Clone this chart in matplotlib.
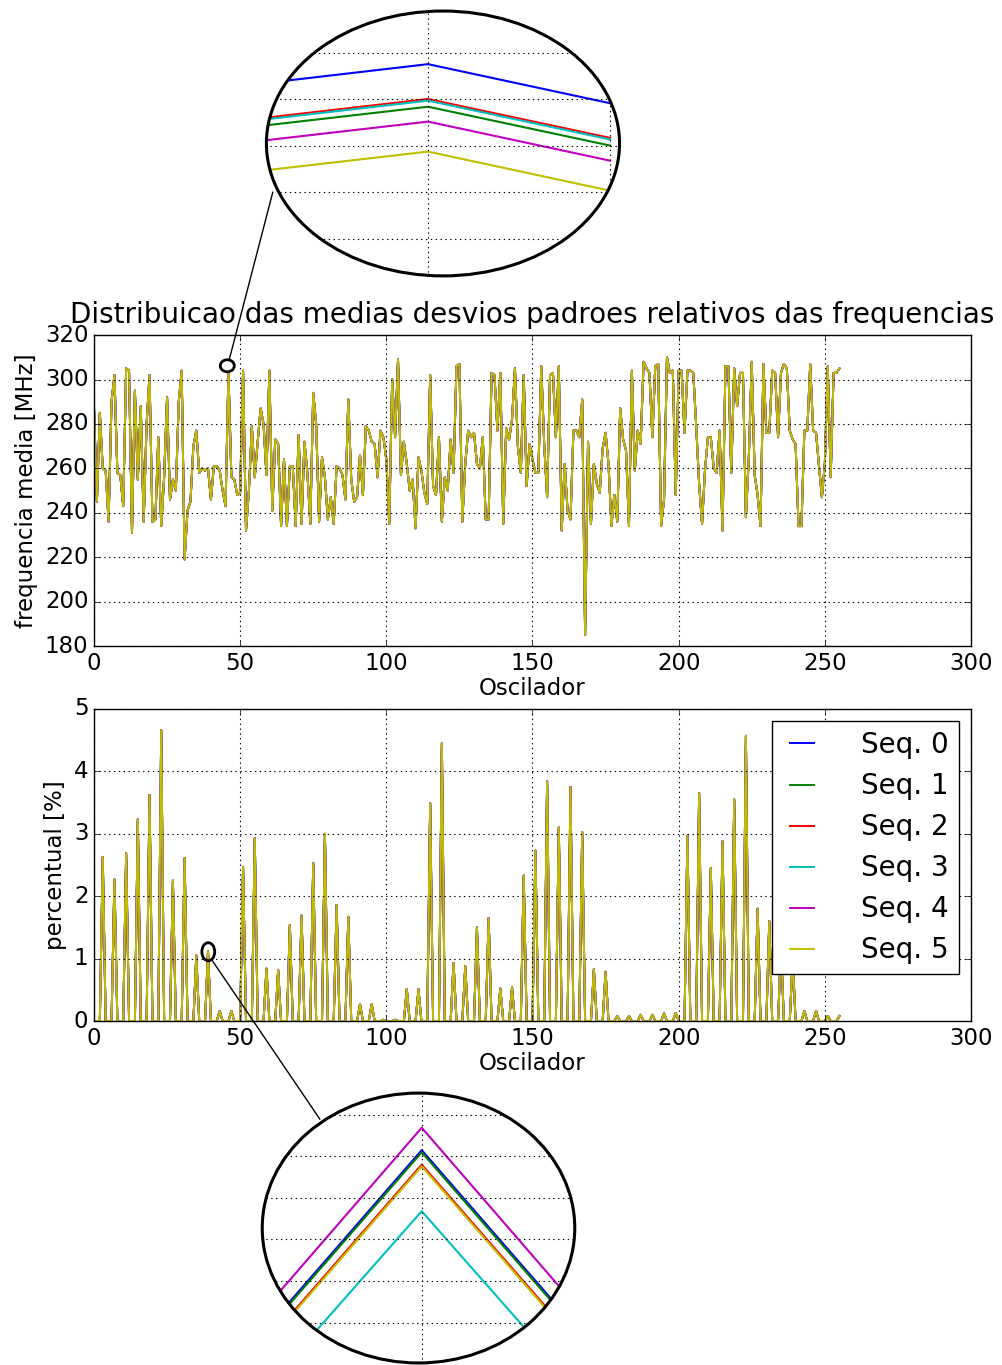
import numpy as np
import matplotlib
matplotlib.use('Agg')
from matplotlib import pyplot as plt
from matplotlib.patches import Ellipse, ConnectionPatch

plt.style.use('classic')
plt.rcParams['font.family'] = ['DejaVu Sans']

seq_labels = ['Seq. 0', 'Seq. 1', 'Seq. 2', 'Seq. 3', 'Seq. 4', 'Seq. 5']
seq_colors = ['b', 'g', 'r', 'c', 'm', 'y']

# frequencia media [MHz] por oscilador (0..255)
freq_media = [
    288, 245, 285, 260, 259, 236, 290, 302, 258, 257, 243, 305, 304, 231, 295, 255,
    288, 236, 280, 302, 236, 237, 274, 234, 256, 292, 246, 255, 250, 290, 304, 219,
    241, 245, 270, 277, 258, 260, 259, 260, 246, 261, 261, 259, 250, 243, 303, 256,
    255, 248, 249, 304, 232, 250, 279, 256, 272, 287, 280, 257, 304, 241, 273, 271,
    234, 264, 234, 261, 261, 234, 275, 235, 272, 258, 235, 294, 280, 236, 265, 256,
    237, 247, 235, 261, 260, 257, 246, 291, 255, 245, 247, 266, 248, 279, 277, 272,
    271, 256, 277, 274, 264, 235, 300, 274, 309, 257, 272, 262, 250, 255, 233, 265,
    259, 249, 244, 302, 252, 248, 274, 236, 256, 250, 273, 258, 306, 307, 236, 262,
    277, 274, 276, 262, 260, 274, 237, 237, 303, 302, 277, 303, 235, 278, 273, 282,
    305, 270, 258, 302, 252, 271, 264, 258, 258, 306, 271, 247, 302, 303, 274, 306,
    232, 262, 241, 237, 277, 277, 274, 291, 185, 272, 235, 262, 253, 249, 269, 276,
    262, 234, 248, 236, 287, 273, 268, 234, 304, 259, 277, 271, 308, 305, 303, 274,
    306, 307, 234, 246, 310, 303, 304, 248, 304, 304, 276, 304, 304, 303, 279, 253,
    235, 259, 274, 274, 260, 258, 277, 232, 306, 306, 258, 305, 288, 303, 303, 238,
    265, 308, 257, 248, 234, 307, 276, 276, 304, 303, 274, 303, 307, 305, 277, 273,
    271, 234, 234, 277, 277, 307, 277, 276, 261, 247, 262, 306, 256, 303, 303, 305,
]

# desvio padrao relativo [%] por oscilador (0..255)
desvio_pct = [
    0, 0, 0, 2.63, 0, 0, 0, 2.27, 0, 0, 0, 2.69, 0, 0, 0, 3.23,
    0, 0, 0, 3.62, 0, 0, 0, 4.66, 0, 0, 0, 2.25, 0, 0, 0, 2.61,
    0, 0, 0, 1.05, 0, 0, 0, 1.12, 0, 0, 0, 0.16, 0, 0, 0, 0.16,
    0, 0, 0, 2.47, 0, 0, 0, 2.93, 0, 0, 0, 0.84, 0, 0, 0, 0.82,
    0, 0, 0, 1.54, 0, 0, 0, 1.69, 0, 0, 0, 2.53, 0, 0, 0, 3.00,
    0, 0, 0, 1.86, 0, 0, 0, 1.67, 0, 0, 0, 0.27, 0, 0, 0, 0.27,
    0, 0, 0, 0.02, 0, 0, 0, 0.02, 0, 0, 0, 0.51, 0, 0, 0, 0.51,
    0, 0, 0, 3.49, 0, 0, 0, 4.45, 0, 0, 0, 0.93, 0, 0, 0, 0.88,
    0, 0, 0, 1.50, 0, 0, 0, 1.65, 0, 0, 0, 0.52, 0, 0, 0, 0.54,
    0, 0, 0, 2.33, 0, 0, 0, 2.73, 0, 0, 0, 3.84, 0, 0, 0, 3.10,
    0, 0, 0, 3.75, 0, 0, 0, 3.03, 0, 0, 0, 0.83, 0, 0, 0, 0.79,
    0, 0, 0, 0.08, 0, 0, 0, 0.08, 0, 0, 0, 0.10, 0, 0, 0, 0.10,
    0, 0, 0, 0.12, 0, 0, 0, 0.13, 0, 0, 0, 2.97, 0, 0, 0, 3.65,
    0, 0, 0, 2.45, 0, 0, 0, 2.88, 0, 0, 0, 3.55, 0, 0, 0, 4.57,
    0, 0, 0, 1.80, 0, 0, 0, 1.60, 0, 0, 0, 1.20, 0, 0, 0, 1.00,
    0, 0, 0, 0.16, 0, 0, 0, 0.16, 0, 0, 0, 0.08, 0, 0, 0, 0.08,
]

# valores ampliados (zoom) por sequencia
zoom_freq_x = [45, 46, 47]
zoom_freq = [
    [303.660, 303.751, 303.583],
    [303.478, 303.568, 303.401],
    [303.511, 303.601, 303.434],
    [303.504, 303.594, 303.427],
    [303.414, 303.504, 303.336],
    [303.285, 303.375, 303.207],
]
zoom_pct_x = [38, 39, 40]
zoom_pct = [
    [0, 1.1115, 0],
    [0, 1.1110, 0],
    [0, 1.1080, 0],
    [0, 1.0968, 0],
    [0, 1.1169, 0],
    [0, 1.1076, 0],
]

osc = np.arange(len(freq_media))
fs = 16.5
grid_kw = dict(color='k', linestyle=(0, (1, 2.5)), linewidth=0.8)

fig = plt.figure(figsize=(10.03, 13.65), dpi=100)
fig.patch.set_facecolor('white')

ax1 = fig.add_axes([0.0937, 0.5267, 0.8744, 0.2278])
ax2 = fig.add_axes([0.0937, 0.2520, 0.8744, 0.2286])

for lab, c in zip(seq_labels, seq_colors):
    ax1.plot(osc, freq_media, color=c, lw=1.4, label=lab)
    ax2.plot(osc, desvio_pct, color=c, lw=1.4, label=lab)

ax1.set_xlim(0, 300)
ax1.set_ylim(180, 320)
ax1.set_yticks(range(180, 321, 20))
ax1.set_title('Distribuicao das medias desvios padroes relativos das frequencias',
              fontsize=20, pad=9)
ax1.set_ylabel('frequencia media [MHz]', fontsize=fs)
ax1.set_xlabel('Oscilador', fontsize=fs, labelpad=2)

ax2.set_xlim(0, 300)
ax2.set_ylim(0, 5)
ax2.set_ylabel('percentual [%]', fontsize=fs)
ax2.set_xlabel('Oscilador', fontsize=fs, labelpad=2)

for ax in (ax1, ax2):
    ax.grid(True, **grid_kw)
    ax.tick_params(labelsize=fs)
    ax.set_xticks(range(0, 301, 50))

leg = ax2.legend(loc='upper right', fontsize=20, handlelength=1.45, handletextpad=1.4,
                 labelspacing=0.47, borderpad=0.35, borderaxespad=0.45,
                 fancybox=False, framealpha=1)
leg.get_frame().set_edgecolor('k')


def zoom_axes(rect, xs, ys_list, xlim, ylim, xt, yt):
    axz = fig.add_axes(rect)
    axz.set_xlim(xlim)
    axz.set_ylim(ylim)
    axz.set_xticks(xt)
    axz.set_yticks(yt)
    ell = Ellipse((0.5, 0.5), 1, 1, transform=axz.transAxes, facecolor='white', edgecolor='none')
    axz.add_patch(ell)
    for ys, c in zip(ys_list, seq_colors):
        ln, = axz.plot(xs, ys, color=c, lw=1.5)
        ln.set_clip_path(ell)
    axz.grid(True, **grid_kw)
    for gl in axz.get_xgridlines() + axz.get_ygridlines():
        gl.set_clip_path(ell)
    axz.tick_params(length=0, labelbottom=False, labelleft=False, labeltop=False, labelright=False)
    for s in axz.spines.values():
        s.set_visible(False)
    axz.patch.set_visible(False)
    axz.add_patch(Ellipse((0.5, 0.5), 0.992, 0.992, transform=axz.transAxes, fill=False,
                          edgecolor='k', lw=2.2, clip_on=False, zorder=5))
    return axz


axz1 = zoom_axes([0.2642, 0.7971, 0.3549, 0.1956], zoom_freq_x, zoom_freq,
                 (45.104, 47.06), (302.836, 303.984), [46, 47],
                 [303.0, 303.2, 303.4, 303.6, 303.8])
axz2 = zoom_axes([0.2602, 0.0007, 0.3141, 0.1993], zoom_pct_x, zoom_pct,
                 (38.960, 39.0384), (1.0600, 1.1255), [39],
                 [1.07, 1.08, 1.09, 1.10, 1.11, 1.12])

# marcadores da regiao ampliada
ax1.add_patch(Ellipse((45.6, 306.2), 4.8, 5.4, fill=False, edgecolor='k', lw=2, zorder=6))
ax2.add_patch(Ellipse((39.1, 1.11), 4.4, 0.29, fill=False, edgecolor='k', lw=2, zorder=6))

con1 = ConnectionPatch(xyA=(46.3, 309.1), coordsA=ax1.transData,
                       xyB=(0.022, 0.318), coordsB=axz1.transAxes, color='k', lw=1)
con2 = ConnectionPatch(xyA=(40.3, 0.98), coordsA=ax2.transData,
                       xyB=(0.187, 0.90), coordsB=axz2.transAxes, color='k', lw=1)
fig.add_artist(con1)
fig.add_artist(con2)

fig.savefig('out.png', dpi=100, facecolor='white')
